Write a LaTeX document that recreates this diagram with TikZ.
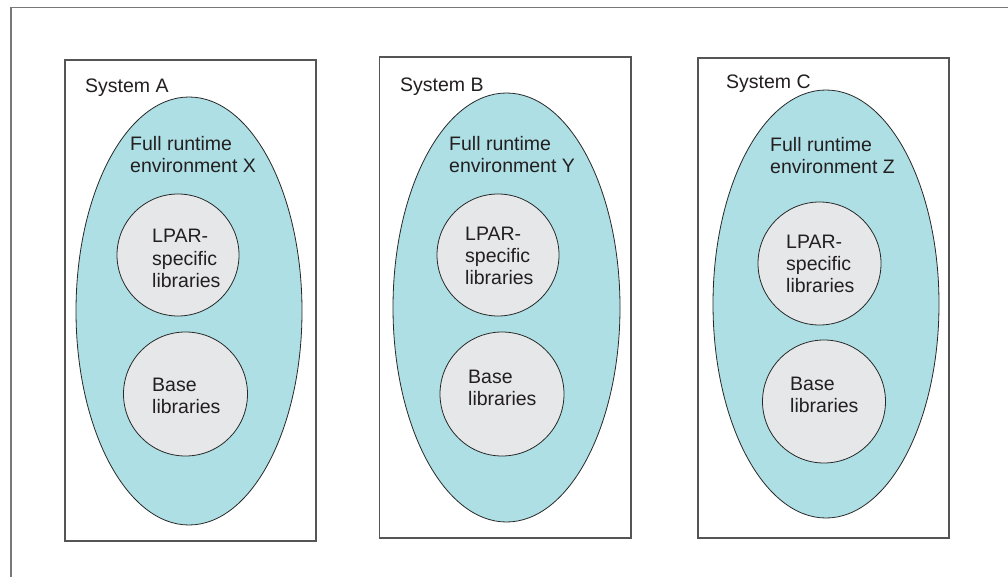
\documentclass[tikz,border=0pt]{standalone}
\usepackage{fontspec}
\setmainfont{Liberation Sans}
\usetikzlibrary{shapes.geometric}
\definecolor{envfill}{RGB}{173,223,228}
\definecolor{libfill}{RGB}{230,231,232}
\definecolor{boxline}{RGB}{85,85,85}
\definecolor{frameline}{RGB}{120,120,120}
\definecolor{inkline}{RGB}{40,40,40}
\definecolor{txt}{RGB}{35,31,32}
\tikzset{
  sysbox/.style={draw=boxline, line width=1.3pt, fill=white, rectangle, inner sep=0pt, outer sep=0pt},
  envshape/.style={draw=inkline, line width=0.8pt, fill=envfill, ellipse, inner sep=0pt, outer sep=0pt},
  libshape/.style={draw=inkline, line width=0.8pt, fill=libfill, circle, inner sep=0pt, outer sep=0pt},
  % multi-line labels are placed by the baseline of their last line
  lbl/.style={anchor=base west, inner sep=0pt, align=left, text=txt, font=\fontsize{19.5}{22}\selectfont}
}
\begin{document}
\begin{tikzpicture}[x=1pt, y=-1pt]
  \useasboundingbox (0,0) rectangle (1008,577);
  \clip (0,0) rectangle (1008,577);
  % outer frame, running off the right and bottom edges
  \coordinate (frameTL) at (11,7.5);
  \coordinate (frameBR) at (1030,600);
  \draw[frameline, line width=1.5pt] (frameTL) rectangle (frameBR);

  % System A
  \node[sysbox, minimum width=251pt, minimum height=481pt] (boxA) at (190.5,300.5) {};
  \node[envshape, minimum width=226pt, minimum height=428pt] (envA) at (189,311) {};
  \node[libshape, minimum size=122pt] (lparA) at (178,255) {};
  \node[libshape, minimum size=124pt] (baseA) at (185.5,394) {};
  \node[lbl] (sysA) at (85,93) {System A};
  \node[lbl] (envAtxt) at (130,173) {Full runtime\\environment X};
  \node[lbl] (lparAtxt) at (152,287) {LPAR-\\specific\\libraries};
  \node[lbl] (baseAtxt) at (152,413) {Base\\libraries};

  % System B
  \node[sysbox, minimum width=251.5pt, minimum height=481pt] (boxB) at (505.25,297.5) {};
  \node[envshape, minimum width=227pt, minimum height=429pt] (envB) at (506.5,307.5) {};
  \node[libshape, minimum size=122pt] (lparB) at (498,255) {};
  \node[libshape, minimum size=124pt] (baseB) at (502,394) {};
  \node[lbl] (sysB) at (400,92) {System B};
  \node[lbl] (envBtxt) at (449,173) {Full runtime\\environment Y};
  \node[lbl] (lparBtxt) at (465,284) {LPAR-\\specific\\libraries};
  \node[lbl] (baseBtxt) at (468,405) {Base\\libraries};

  % System C
  \node[sysbox, minimum width=251pt, minimum height=480pt] (boxC) at (823.5,298) {};
  \node[envshape, minimum width=226pt, minimum height=428pt] (envC) at (826,304) {};
  \node[libshape, minimum size=123pt] (lparC) at (819.5,263.5) {};
  \node[libshape, minimum size=123pt] (baseC) at (824,401.5) {};
  \node[lbl] (sysC) at (726,89) {System C};
  \node[lbl] (envCtxt) at (770,174) {Full runtime\\environment Z};
  \node[lbl] (lparCtxt) at (786,292) {LPAR-\\specific\\libraries};
  \node[lbl] (baseCtxt) at (790,412) {Base\\libraries};
\end{tikzpicture}
\end{document}
